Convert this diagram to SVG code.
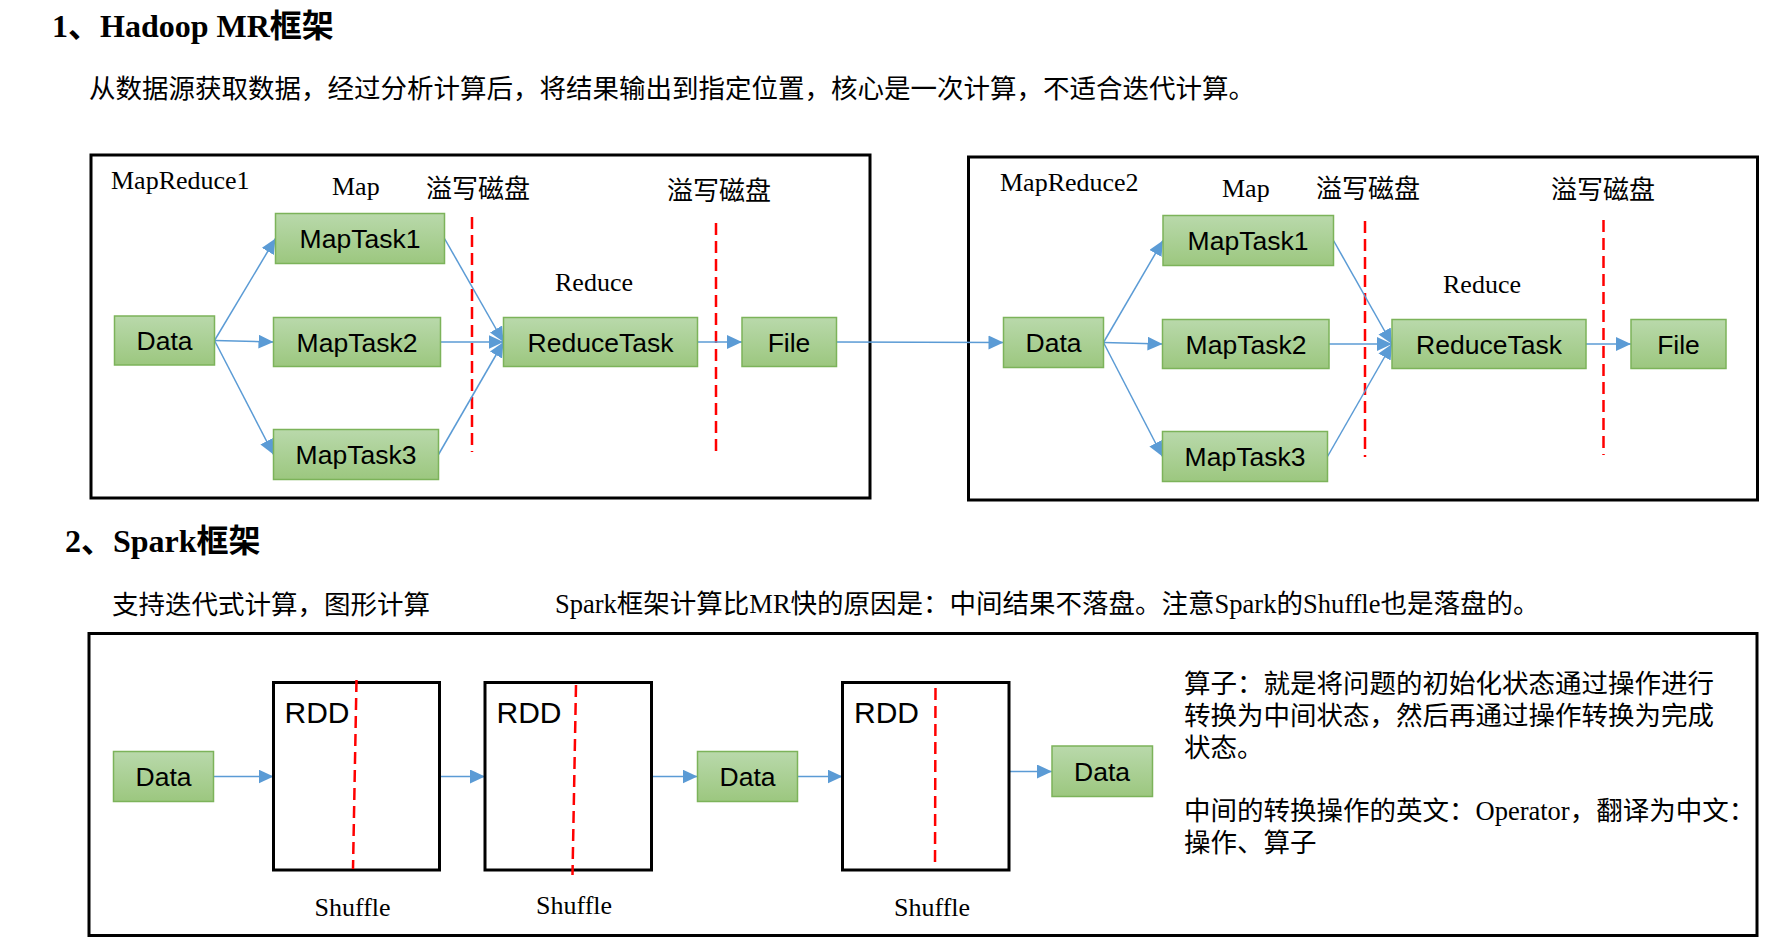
<svg xmlns="http://www.w3.org/2000/svg" width="1790" height="947" viewBox="0 0 1790 947">
<defs>
<linearGradient id="gg" x1="0" y1="0" x2="0" y2="1">
<stop offset="0" stop-color="#B9D9AB"/>
<stop offset="1" stop-color="#9CC77F"/>
</linearGradient>
<marker id="ah" markerUnits="userSpaceOnUse" markerWidth="16" markerHeight="16" refX="15" refY="7" orient="auto">
<path d="M0,0 L15,7 L0,14 z" fill="#5B9BD5"/>
</marker>
</defs>
<style>
.frame{fill:none;stroke:#000;stroke-width:3}
.rdd{fill:#fff;stroke:#000;stroke-width:3}
.node{fill:url(#gg);stroke:#7CB35A;stroke-width:1.5}
.nt{font-family:"Liberation Sans",Arial,sans-serif;font-size:26.5px;fill:#000;text-anchor:middle}
.rt{font-family:"Liberation Sans",Arial,sans-serif;font-size:30px;fill:#000}
.lb{font-family:"Liberation Serif","Noto Sans CJK SC",serif;font-size:26px;fill:#000}
.lw{font-size:26.5px}
.tt{font-family:"Liberation Serif","Noto Sans CJK SC",serif;font-size:32px;font-weight:bold;fill:#000}
.cn{fill:none;stroke:#5B9BD5;stroke-width:1.5;marker-end:url(#ah)}
.rd{fill:none;stroke:#FF0000;stroke-width:2.5;stroke-dasharray:12 6}
</style>
<rect width="1790" height="947" fill="#fff"/>

<g id="texts">
<text class="tt" x="52" y="37">1、Hadoop MR框架</text>
<text class="lb lw" x="89" y="98">从数据源获取数据，经过分析计算后，将结果输出到指定位置，核心是一次计算，不适合迭代计算。</text>
<text class="tt" x="65" y="552">2、Spark框架</text>
<text class="lb lw" x="112" y="614">支持迭代式计算，图形计算</text>
<text class="lb lw" x="555" y="613">Spark框架计算比MR快的原因是：中间结果不落盘。注意Spark的Shuffle也是落盘的。</text>
</g>

<g id="frames">
<rect class="frame" x="91" y="155" width="779" height="343"/>
<rect class="frame" x="968.5" y="157" width="789" height="343"/>
<rect class="frame" x="89" y="633.5" width="1668" height="302"/>
</g>

<g id="mr1-labels">
<text class="lb" x="111" y="189">MapReduce1</text>
<text class="lb" x="332" y="195">Map</text>
<text class="lb" x="426" y="198">溢写磁盘</text>
<text class="lb" x="667" y="200">溢写磁盘</text>
<text class="lb" x="555" y="291">Reduce</text>
</g>
<g id="mr2-labels">
<text class="lb" x="1000" y="191">MapReduce2</text>
<text class="lb" x="1222" y="197">Map</text>
<text class="lb" x="1316" y="198">溢写磁盘</text>
<text class="lb" x="1551" y="199">溢写磁盘</text>
<text class="lb" x="1443" y="293">Reduce</text>
</g>

<g id="spill-lines">
<line class="rd" x1="472" y1="217" x2="472" y2="452"/>
<line class="rd" x1="716" y1="223" x2="716" y2="457"/>
<line class="rd" x1="1365" y1="221" x2="1365" y2="457"/>
<line class="rd" x1="1603.5" y1="220" x2="1603.5" y2="455"/>
</g>

<g id="connectors">
<line class="cn" x1="214.5" y1="340.5" x2="275.5" y2="238.5"/>
<line class="cn" x1="214.5" y1="340.5" x2="273.5" y2="342"/>
<line class="cn" x1="214.5" y1="340.5" x2="273.5" y2="454.5"/>
<line class="cn" x1="444.5" y1="238.5" x2="503.5" y2="342"/>
<line class="cn" x1="440.5" y1="342" x2="503.5" y2="342"/>
<line class="cn" x1="438.5" y1="454.5" x2="503.5" y2="342"/>
<line class="cn" x1="697.5" y1="342" x2="742" y2="342"/>
<line class="cn" x1="836.5" y1="342" x2="1003.5" y2="342.5"/>
<line class="cn" x1="1103.5" y1="342.5" x2="1163" y2="240.5"/>
<line class="cn" x1="1103.5" y1="342.5" x2="1162.5" y2="344"/>
<line class="cn" x1="1103.5" y1="342.5" x2="1162.5" y2="456.5"/>
<line class="cn" x1="1333.5" y1="240.5" x2="1392" y2="344"/>
<line class="cn" x1="1329" y1="344" x2="1392" y2="344"/>
<line class="cn" x1="1327.5" y1="456.5" x2="1392" y2="344"/>
<line class="cn" x1="1586" y1="344" x2="1631" y2="344"/>
<line class="cn" x1="213.5" y1="776.5" x2="273.5" y2="776.5"/>
<line class="cn" x1="439.5" y1="776.5" x2="485" y2="776.5"/>
<line class="cn" x1="651.5" y1="776.5" x2="697.5" y2="776.5"/>
<line class="cn" x1="797.5" y1="776.5" x2="842.5" y2="776.5"/>
<line class="cn" x1="1009" y1="771.5" x2="1052" y2="771.5"/>
</g>

<g id="mr1-data"><rect class="node" x="114.5" y="316" width="100" height="49"/><text class="nt" x="164.5" y="350">Data</text></g>
<g id="mr1-maptask1"><rect class="node" x="275.5" y="213.5" width="169" height="50"/><text class="nt" x="360" y="248">MapTask1</text></g>
<g id="mr1-maptask2"><rect class="node" x="273.5" y="317.5" width="167" height="49"/><text class="nt" x="357" y="351.5">MapTask2</text></g>
<g id="mr1-maptask3"><rect class="node" x="273.5" y="429.5" width="165" height="50"/><text class="nt" x="356" y="464">MapTask3</text></g>
<g id="mr1-reducetask"><rect class="node" x="503.5" y="317.5" width="194" height="49"/><text class="nt" x="600.5" y="351.5">ReduceTask</text></g>
<g id="mr1-file"><rect class="node" x="742" y="317.5" width="94.5" height="49"/><text class="nt" x="789" y="351.5">File</text></g>

<g id="mr2-data"><rect class="node" x="1003.5" y="317.5" width="100" height="50"/><text class="nt" x="1053.5" y="352">Data</text></g>
<g id="mr2-maptask1"><rect class="node" x="1163" y="215.5" width="170.5" height="50"/><text class="nt" x="1248" y="250">MapTask1</text></g>
<g id="mr2-maptask2"><rect class="node" x="1162.5" y="319.5" width="166.5" height="49"/><text class="nt" x="1246" y="353.5">MapTask2</text></g>
<g id="mr2-maptask3"><rect class="node" x="1162.5" y="431.5" width="165" height="50"/><text class="nt" x="1245" y="466">MapTask3</text></g>
<g id="mr2-reducetask"><rect class="node" x="1392" y="319.5" width="194" height="49"/><text class="nt" x="1489" y="353.5">ReduceTask</text></g>
<g id="mr2-file"><rect class="node" x="1631" y="319.5" width="95" height="49"/><text class="nt" x="1678.5" y="353.5">File</text></g>

<g id="sp-data1"><rect class="node" x="113.5" y="751.5" width="100" height="50"/><text class="nt" x="163.5" y="786">Data</text></g>
<g id="sp-rdd1"><rect class="rdd" x="273.5" y="682.5" width="166" height="187.5"/><text class="rt" x="284.5" y="723">RDD</text><line class="rd" x1="356.5" y1="680" x2="353" y2="869"/><text class="lb" x="314.5" y="916">Shuffle</text></g>
<g id="sp-rdd2"><rect class="rdd" x="485" y="682.5" width="166.5" height="187.5"/><text class="rt" x="496.5" y="723">RDD</text><line class="rd" x1="576" y1="685" x2="572.5" y2="875"/><text class="lb" x="536" y="914">Shuffle</text></g>
<g id="sp-data2"><rect class="node" x="697.5" y="751.5" width="100" height="50"/><text class="nt" x="747.5" y="786">Data</text></g>
<g id="sp-rdd3"><rect class="rdd" x="842.5" y="682.5" width="166.5" height="187.5"/><text class="rt" x="854" y="723">RDD</text><line class="rd" x1="935.5" y1="688" x2="935" y2="867"/><text class="lb" x="894" y="916">Shuffle</text></g>
<g id="sp-data3"><rect class="node" x="1052" y="746" width="100.5" height="50.5"/><text class="nt" x="1102" y="780.5">Data</text></g>

<g id="operator-note">
<text class="lb lw" x="1184" y="693">算子：就是将问题的初始化状态通过操作进行</text>
<text class="lb lw" x="1184" y="725">转换为中间状态，然后再通过操作转换为完成</text>
<text class="lb lw" x="1184" y="757">状态。</text>
<text class="lb lw" x="1184" y="820">中间的转换操作的英文：Operator，翻译为中文：</text>
<text class="lb lw" x="1184" y="852">操作、算子</text>
</g>
</svg>
